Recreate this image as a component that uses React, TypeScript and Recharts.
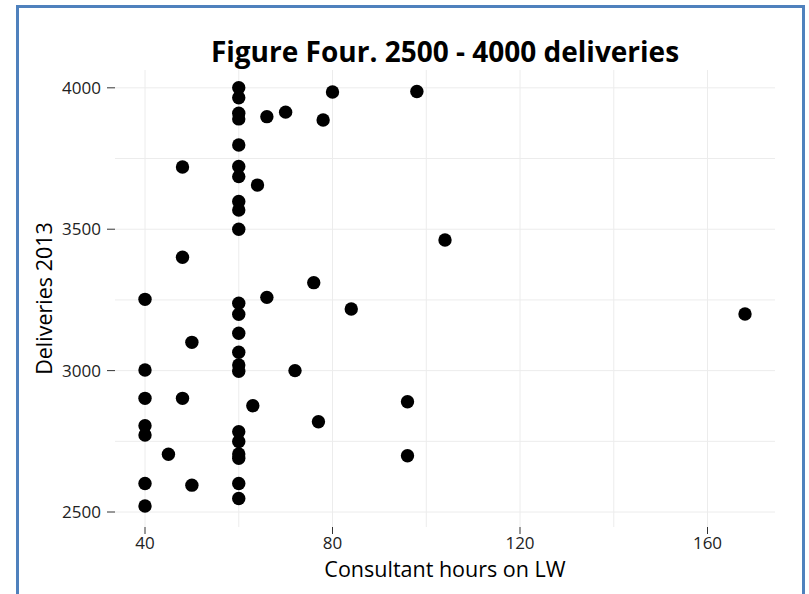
import { ScatterChart, Scatter, XAxis, YAxis, CartesianGrid } from 'recharts';

// consultant hours on labour ward, one entry per unit
const hours = [
  60, 60, 60, 60, 60, 60, 60, 60, 60, 60, 60,
  60, 60, 60, 60, 60, 60, 60, 60, 60, 60, 60,
  48, 48, 48,
  40, 40, 40, 40, 40, 40, 40,
  66, 66, 70, 80, 78, 64, 76, 84,
  50, 50, 72, 63, 77, 45, 98, 104, 168, 96, 96,
];

// deliveries in 2013, same order as hours
const deliveries = [
  4000, 3965, 3910, 3890, 3798, 3722, 3686, 3598, 3568, 3500, 3238,
  3199, 3132, 3065, 3020, 2998, 2784, 2749, 2705, 2690, 2601, 2548,
  3720, 3401, 2902,
  3252, 3002, 2902, 2805, 2772, 2601, 2521,
  3898, 3259, 3914, 3985, 3886, 3656, 3311, 3218,
  3100, 2595, 3000, 2876, 2819, 2704, 3987, 3462, 3200, 2890, 2699,
];

const xTicks = [40, 80, 120, 160];
const yTicks = [2500, 3000, 3500, 4000];
const xGrid = [40, 60, 80, 100, 120, 140, 160];
const yGrid = [2500, 2750, 3000, 3250, 3500, 3750, 4000];

const points = hours.map((h, i) => ({ hours: h, deliveries: deliveries[i] }));

const font = '"Open Sans", sans-serif';

const Dot = (props: any) => <circle cx={props.cx} cy={props.cy} r={6.7} fill="#000" />;

export default function App() {
  return (
    <div style={{ position: 'absolute', left: 0, top: 0, width: 809, height: 594, background: '#fff', overflow: 'hidden', fontFamily: font }}>
      <div
        style={{
          position: 'absolute',
          left: 16,
          top: 5,
          width: 789,
          height: 620,
          boxSizing: 'border-box',
          border: '3px solid #4f81bd',
        }}
      />
      <div
        style={{
          position: 'absolute',
          left: 115,
          width: 660,
          top: 32,
          textAlign: 'center',
          fontSize: 28,
          fontWeight: 700,
          color: '#000',
          lineHeight: '38px',
        }}
      >
        Figure Four. 2500 - 4000 deliveries
      </div>
      <div style={{ position: 'absolute', left: 0, top: 0 }}>
        <ScatterChart width={809} height={594} margin={{ top: 70, right: 34, bottom: 0, left: 0 }}>
          <CartesianGrid stroke="#ececec" verticalValues={xGrid} horizontalValues={yGrid} />
          <XAxis
            type="number"
            dataKey="hours"
            domain={[33.6, 174.4]}
            allowDataOverflow
            ticks={xTicks}
            height={67}
            axisLine={false}
            tickSize={7}
            tickMargin={3}
            tickLine={{ stroke: '#333' }}
            tick={{ fill: '#222', fontSize: 17, fontFamily: font }}
            label={{ value: 'Consultant hours on LW', position: 'insideBottom', offset: 17, fill: '#000', fontSize: 21.5, fontFamily: font }}
          />
          <YAxis
            type="number"
            dataKey="deliveries"
            domain={[2447, 4063]}
            allowDataOverflow
            ticks={yTicks}
            width={115}
            axisLine={false}
            tickSize={8}
            tickMargin={6}
            tickLine={{ stroke: '#333' }}
            tick={{ fill: '#222', fontSize: 17, fontFamily: font }}
            label={{ value: 'Deliveries 2013', angle: -90, position: 'insideLeft', offset: 44, fill: '#000', fontSize: 21.5, fontFamily: font, style: { textAnchor: 'middle' } }}
          />
          <Scatter data={points} shape={Dot} isAnimationActive={false} />
        </ScatterChart>
      </div>
    </div>
  );
}
